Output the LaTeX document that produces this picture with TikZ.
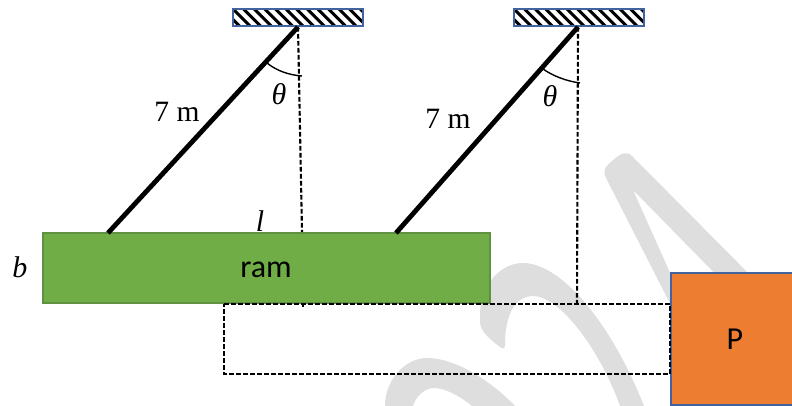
\documentclass[tikz,border=0pt]{standalone}
\usepackage{fontspec}
\setmainfont{Liberation Serif}
\newfontfamily\labelsans{Carlito}
\tikzset{
  x=1pt,y=-1pt,
  hatchbox/.style={draw=none,minimum width=130pt,minimum height=17pt,inner sep=0pt,outer sep=0pt},
  rod/.style={line width=4.8pt,black},
  dashline/.style={line width=2.1pt,dash pattern=on 4.6pt off 2.4pt,black},
  anglearc/.style={line width=1.4pt,black},
  serif/.style={font=\fontsize{29.5}{29.5}\selectfont,inner sep=0pt},
  mathlab/.style={font=\itshape\fontsize{30}{30}\selectfont,inner sep=0pt},
  sanslab/.style={font=\labelsans\fontsize{32}{32}\selectfont,inner sep=0pt},
  water/.style={fill=wm,draw=none}
}
\definecolor{wm}{HTML}{DEDEDE}
\definecolor{ramgreen}{HTML}{70AD47}
\definecolor{ramedge}{HTML}{5F9140}
\definecolor{porange}{HTML}{ED7D31}
\definecolor{pedge}{HTML}{41639F}
\begin{document}
\begin{tikzpicture}
\useasboundingbox (0,0) rectangle (792,406);
% watermark
\fill[water] (680,323) -- (606,178) .. controls (602,170) and (606,166) .. (612,161) .. controls (620,154) and (626,150) .. (632,156) -- (770,295) -- (736,295) -- (633,190) -- (680,295) -- cycle;
\fill[water] (480,313) .. controls (481,285) and (500,263) .. (523,263) .. controls (560,263) and (610,320) .. (644,406) -- (620,406) .. controls (600,350) and (560,296) .. (533,296) .. controls (518,296) and (505,310) .. (505,345) .. controls (505,349) and (503,349) .. (500,347) .. controls (492,341) and (480,332) .. (480,322) -- cycle;
\fill[water] (385,406) .. controls (385,380) and (405,358) .. (427,358) .. controls (455,358) and (490,380) .. (515,406) -- (472,406) .. controls (460,396) and (445,388) .. (434,388) .. controls (425,388) and (416,396) .. (413,406) -- cycle;
% ceilings
\node[hatchbox,anchor=north west] (ceilA) at (233,9) {};
\node[hatchbox,anchor=north west] (ceilB) at (514,9) {};
\foreach \boxname in {ceilA,ceilB}{
  \begin{scope}
    \clip (\boxname.north west) rectangle (\boxname.south east);
    \foreach \k in {-2,...,14}
      \draw[line width=3pt] ([xshift=\k*10.6pt]\boxname.north west) -- ++(17,17);
  \end{scope}
  \draw[pedge,line width=1.1pt] (\boxname.north west) rectangle (\boxname.south east);
}
% ram and load
\node[draw=ramedge,fill=ramgreen,line width=1.1pt,minimum width=447pt,minimum height=70pt,inner sep=0pt,outer sep=0pt,anchor=north west] (ram) at (43,233) {};
\node[sanslab] (ramtext) at (266,270) {ram};
\node[draw=pedge,fill=porange,line width=1.1pt,minimum width=124pt,minimum height=132pt,inner sep=0pt,outer sep=0pt,anchor=north west] (load) at (671,273) {};
\node[sanslab] (ptext) at (735,339) {P};
% points
\coordinate (topA) at (298,27);
\coordinate (topB) at (578,27);
\coordinate (footA) at (108,233);
\coordinate (footB) at (396,233);
\coordinate (dropA) at (302,232);
\coordinate (tickA) at (303,307);
\coordinate (tickTop) at (303,304);
\coordinate (dropB) at (577,304);
\coordinate (boxTL) at (224,304);
\coordinate (boxTR) at (670,304);
\coordinate (boxBR) at (670,374);
\coordinate (boxBL) at (224,374);
\coordinate (arcA1) at (267,63);
\coordinate (arcA2) at (302,76);
\coordinate (arcB1) at (543,69);
\coordinate (arcB2) at (580,83);
% rods
\draw[rod] (topA) -- (footA);
\draw[rod] (topB) -- (footB);
% dashed
\draw[dashline] (topA) -- (dropA);
\draw[dashline] (topB) -- (dropB);
\draw[dashline] (boxTL) -- (boxTR) -- (boxBR) -- (boxBL) -- cycle;
\draw[line width=1.8pt] (tickTop) -- (tickA);
% angle arcs
\draw[anglearc] (arcA1) .. controls (277,71) and (289,75) .. (arcA2);
\draw[anglearc] (arcB1) .. controls (553,76) and (566,81) .. (arcB2);
% labels
\node[mathlab] (thetaA) at (279,94) {θ};
\node[mathlab] (thetaB) at (550,96) {θ};
\node[serif] (lenA) at (177,112) {7 m};
\node[serif] (lenB) at (448,119) {7 m};
\node[mathlab] (lenl) at (260,221) {l};
\node[mathlab] (wid) at (20,267) {b};
\end{tikzpicture}
\end{document}
